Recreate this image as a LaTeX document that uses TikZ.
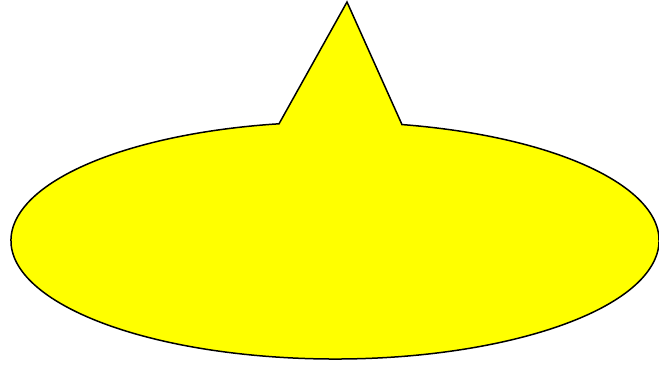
\documentclass[tikz,border=0pt]{standalone}
\definecolor{calloutyellow}{RGB}{255,255,0}
\begin{document}
\begin{tikzpicture}[x=1pt,y=1pt,
  callout/.style={fill=calloutyellow,draw=black,line width=1.5pt,line join=miter}]
\useasboundingbox (0,0) rectangle (659,365);
\coordinate (tip) at (347,363);
\draw[callout] (tip) -- ([shift={(78.07:324 and 118.5)}]335,124.5)
  arc[start angle=78.07,end angle=-260.05,x radius=324,y radius=118.5] -- cycle;
\end{tikzpicture}
\end{document}
